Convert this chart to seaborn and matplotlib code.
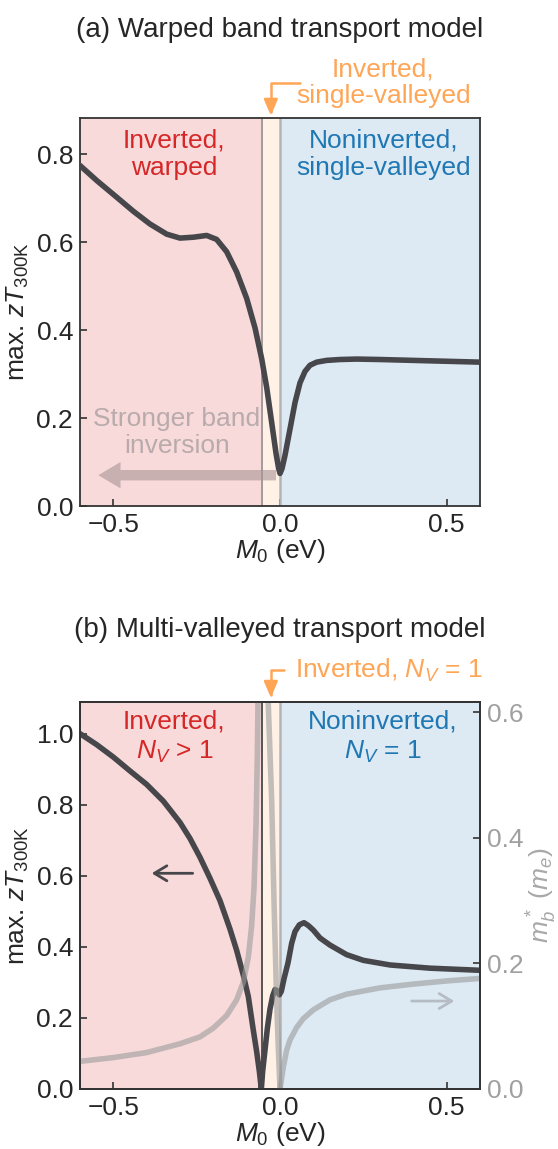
import seaborn as sns
import matplotlib.pyplot as plt

# ---- panel (a): warped band transport model ----
m0_a = [-0.6, -0.55, -0.49, -0.44, -0.39, -0.34, -0.3, -0.26, -0.22, -0.19,
        -0.16, -0.13, -0.1, -0.075, -0.055, -0.04, -0.025, -0.012, -0.004, 0.0,
        0.006, 0.015, 0.03, 0.045, 0.06, 0.075, 0.09, 0.11, 0.14, 0.18,
        0.23, 0.3, 0.4, 0.5, 0.6]
zt_a = [0.774, 0.74, 0.702, 0.67, 0.641, 0.618, 0.609, 0.611, 0.615, 0.606,
        0.578, 0.532, 0.472, 0.405, 0.335, 0.27, 0.19, 0.12, 0.085, 0.074,
        0.085, 0.115, 0.175, 0.235, 0.28, 0.306, 0.32, 0.327, 0.331, 0.333,
        0.334, 0.333, 0.331, 0.329, 0.327]

# ---- panel (b): multi-valleyed transport model ----
m0_b = [-0.6, -0.55, -0.5, -0.45, -0.4, -0.35, -0.3, -0.27, -0.24, -0.21,
        -0.18, -0.15, -0.13, -0.11, -0.095, -0.08, -0.07, -0.062, -0.056, -0.052,
        -0.045, -0.038, -0.03, -0.022, -0.015, -0.008, -0.002, 0.004, 0.012, 0.024,
        0.035, 0.045, 0.058, 0.072, 0.085, 0.1, 0.12, 0.15, 0.2, 0.25,
        0.33, 0.45, 0.6]
zt_b = [1.0, 0.969, 0.934, 0.895, 0.857, 0.81, 0.75, 0.705, 0.652, 0.593,
        0.53, 0.45, 0.39, 0.32, 0.26, 0.165, 0.105, 0.05, 0.0, 0.05,
        0.11, 0.17, 0.225, 0.262, 0.28, 0.276, 0.265, 0.275, 0.31, 0.355,
        0.41, 0.443, 0.462, 0.468, 0.46, 0.447, 0.425, 0.405, 0.378, 0.362,
        0.349, 0.34, 0.334]

# band effective mass m_b* (right axis), split into branches at the poles
m0_mass_left = [-0.6, -0.5, -0.4, -0.3, -0.24, -0.2, -0.16, -0.13, -0.11, -0.095,
                -0.085, -0.078, -0.072, -0.068, -0.065]
mass_left = [0.044, 0.050, 0.058, 0.072, 0.083, 0.097, 0.117, 0.142, 0.17, 0.21,
             0.26, 0.32, 0.42, 0.53, 0.66]
m0_mass_mid = [-0.04, -0.035, -0.03, -0.025, -0.018, -0.01, -0.005, 0.0]
mass_mid = [0.70, 0.61, 0.535, 0.46, 0.30, 0.14, 0.065, 0.0]
m0_mass_right = [0.0, 0.01, 0.02, 0.03, 0.05, 0.07, 0.1, 0.15, 0.2, 0.3, 0.4, 0.5, 0.6]
mass_right = [0.0, 0.035, 0.062, 0.078, 0.098, 0.112, 0.126, 0.142, 0.151, 0.161, 0.167, 0.172, 0.176]

m0_edge = -0.055   # left edge of the "inverted, single-valleyed" window
x_ticks = [-0.5, 0.0, 0.5]
yticks_a = [0.0, 0.2, 0.4, 0.6, 0.8]
yticks_b = [0.0, 0.2, 0.4, 0.6, 0.8, 1.0]
yticks_mass = [0.0, 0.2, 0.4, 0.6]

RED = '#d62728'
BLUE = '#1f77b4'
ORANGE = '#ffa556'
DARK = '#47474b'
GRAY = '#9b9b9b'
SPINE = '#333333'
FS = 19

sns.set_style("ticks")
plt.rcParams['font.family'] = ['Liberation Sans', 'DejaVu Sans']
plt.rcParams['mathtext.fontset'] = 'custom'
plt.rcParams['mathtext.rm'] = 'Liberation Sans'
plt.rcParams['mathtext.it'] = 'Liberation Sans:italic'
plt.rcParams['mathtext.bf'] = 'Liberation Sans:bold'

fig = plt.figure(figsize=(5.58, 11.49), dpi=100)
W, H = 558, 1149
ax_a = fig.add_axes([80 / W, 1 - 506 / H, 400 / W, 388 / H])
ax_b = fig.add_axes([80 / W, 1 - 1089 / H, 400 / W, 387 / H])


def style_axes(ax):
    for s in ax.spines.values():
        s.set_color(SPINE)
        s.set_linewidth(1.3)
    ax.tick_params(direction='in', length=5, width=1.2, color=SPINE,
                   labelsize=FS, pad=5)
    ax.set_xlim(-0.6, 0.6)
    ax.set_xticks(x_ticks)
    ax.set_xlabel('$M_0$ (eV)', fontsize=FS, labelpad=0)
    ax.set_ylabel(r'max. $zT_{\mathrm{300K}}$', fontsize=FS, labelpad=4)


def shade(ax, edge_color):
    ax.axvspan(-0.6, m0_edge, color=RED, alpha=0.17, lw=0, zorder=0)
    ax.axvspan(m0_edge, 0.0, color='#ff7f0e', alpha=0.1, lw=0, zorder=0)
    ax.axvspan(0.0, 0.6, color=BLUE, alpha=0.15, lw=0, zorder=0)
    ax.axvline(m0_edge, color=edge_color, lw=1.4, zorder=1)
    ax.axvline(0.0, color='#b4b4b4', lw=1.8, zorder=1)


def bracket(ax, trans, x_start, y_start, y_tip):
    # orange elbow arrow pointing down into the narrow window
    ax.annotate('', xy=(m0_edge / 2, y_tip), xytext=(x_start, y_start),
                xycoords=trans, textcoords=trans,
                arrowprops=dict(arrowstyle='-|>,head_length=0.75,head_width=0.32',
                                connectionstyle='angle,angleA=0,angleB=90,rad=0',
                                color=ORANGE, lw=1.8, mutation_scale=13,
                                shrinkA=0, shrinkB=0))


# ---------------- (a) ----------------
shade(ax_a, '#a39a9b')
sns.lineplot(x=m0_a, y=zt_a, ax=ax_a, color=DARK, lw=4, sort=False,
             estimator=None, zorder=3)
style_axes(ax_a)
ax_a.set_ylim(0, 0.882)
ax_a.set_yticks(yticks_a)

ax_a.text(-0.317, 0.80, 'Inverted,\nwarped', color=RED, fontsize=FS,
          ha='center', va='center', linespacing=1.2)
ax_a.text(0.31, 0.80, 'Noninverted,\nsingle-valleyed', color=BLUE, fontsize=FS,
          ha='center', va='center', linespacing=1.2)
ax_a.text(-0.31, 0.167, 'Stronger band\ninversion', color='#b9abac', fontsize=FS,
          ha='center', va='center', linespacing=1.2)
ax_a.annotate('', xy=(-0.545, 0.07), xytext=(-0.012, 0.07),
              arrowprops=dict(arrowstyle='simple,head_width=1.9,head_length=1.6,tail_width=0.75',
                              mutation_scale=10, color='#a89596', alpha=0.6, lw=0,
                              shrinkA=0, shrinkB=0))

tr_a = ax_a.get_xaxis_transform()
ax_a.text(0.31, 1.027, 'Inverted,\nsingle-valleyed', color=ORANGE, fontsize=FS,
          ha='center', va='bottom', linespacing=1.1, transform=tr_a)
bracket(ax_a, tr_a, 0.06, 1.091, 1.006)

# ---------------- (b) ----------------
shade(ax_b, '#555555')
sns.lineplot(x=m0_b, y=zt_b, ax=ax_b, color=DARK, lw=4, sort=False,
             estimator=None, zorder=3)
style_axes(ax_b)
ax_b.set_ylim(0, 1.089)
ax_b.set_yticks(yticks_b)

ax_m = ax_b.twinx()
for xs, ys in [(m0_mass_left, mass_left), (m0_mass_mid, mass_mid),
               (m0_mass_right, mass_right)]:
    sns.lineplot(x=xs, y=ys, ax=ax_m, color=GRAY, alpha=0.6, lw=4,
                 sort=False, estimator=None)
ax_m.set_ylim(0, 0.616)
ax_m.set_yticks(yticks_mass)
ax_m.set_xlim(-0.6, 0.6)
for s in ax_m.spines.values():
    s.set_color(SPINE)
    s.set_linewidth(1.3)
ax_m.tick_params(direction='in', length=5, width=1.2, color=SPINE,
                 labelsize=FS, labelcolor='#a0a0a0', pad=5)
ax_m.set_ylabel(r'$m_b^*$ ($m_e$)', fontsize=FS, color='#a8a8a8', labelpad=1)

ax_b.text(-0.317, 0.99, 'Inverted,\n$N_V$ > 1', color=RED, fontsize=FS,
          ha='center', va='center', linespacing=1.25)
ax_b.text(0.307, 0.99, 'Noninverted,\n$N_V$ = 1', color=BLUE, fontsize=FS,
          ha='center', va='center', linespacing=1.25)
ax_b.annotate('', xy=(-0.385, 0.607), xytext=(-0.262, 0.607),
              arrowprops=dict(arrowstyle='->,head_length=0.5,head_width=0.3',
                              color=DARK, lw=2, mutation_scale=18,
                              shrinkA=0, shrinkB=0))
ax_m.annotate('', xy=(0.523, 0.14), xytext=(0.395, 0.14),
              arrowprops=dict(arrowstyle='->,head_length=0.5,head_width=0.3',
                              color='#b5bcc4', lw=2, mutation_scale=18,
                              shrinkA=0, shrinkB=0))

tr_b = ax_b.get_xaxis_transform()
ax_b.text(0.045, 1.062, 'Inverted, $N_V$ = 1', color=ORANGE, fontsize=FS,
          ha='left', va='baseline', transform=tr_b)
bracket(ax_b, tr_b, 0.012, 1.083, 1.011)

# panel titles
fig.text(280 / W, 1 - 37 / H, '(a) Warped band transport model', fontsize=20,
         ha='center', va='baseline')
fig.text(280 / W, 1 - 637 / H, '(b) Multi-valleyed transport model', fontsize=20,
         ha='center', va='baseline')

fig.savefig('out.png', dpi=100)
